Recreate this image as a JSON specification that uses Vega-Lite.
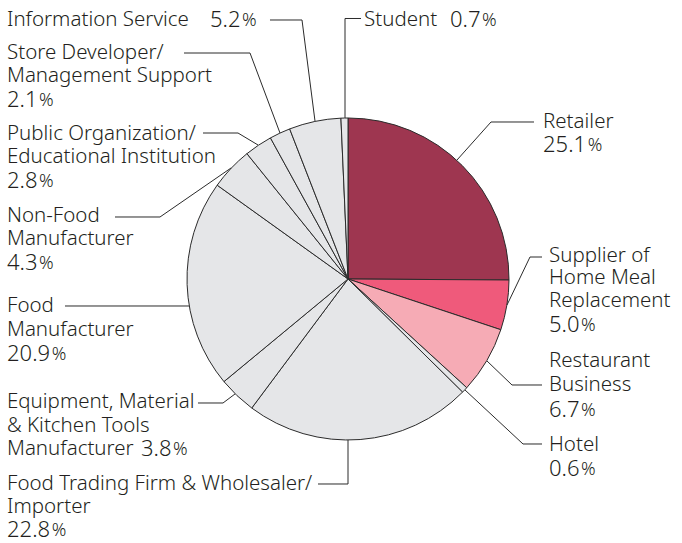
{
  "$schema": "https://vega.github.io/schema/vega-lite/v6.json",
  "width": 682,
  "height": 543,
  "padding": 0,
  "autosize": {"type": "none"},
  "background": "white",
  "config": {"view": {"stroke": null}},
  "datasets": {
    "slices": [
      {"cat": "Retailer", "value": 25.1, "idx": 1, "grp": "Retailer"},
      {"cat": "Supplier of Home Meal Replacement", "value": 5.0, "idx": 2, "grp": "Supplier"},
      {"cat": "Restaurant Business", "value": 6.7, "idx": 3, "grp": "Restaurant"},
      {"cat": "Hotel", "value": 0.6, "idx": 4, "grp": "Other"},
      {"cat": "Food Trading Firm & Wholesaler/Importer", "value": 22.8, "idx": 5, "grp": "Other"},
      {"cat": "Equipment, Material & Kitchen Tools Manufacturer", "value": 3.8, "idx": 6, "grp": "Other"},
      {"cat": "Food Manufacturer", "value": 20.9, "idx": 7, "grp": "Other"},
      {"cat": "Non-Food Manufacturer", "value": 4.3, "idx": 8, "grp": "Other"},
      {"cat": "Public Organization/Educational Institution", "value": 2.8, "idx": 9, "grp": "Other"},
      {"cat": "Store Developer/Management Support", "value": 2.1, "idx": 10, "grp": "Other"},
      {"cat": "Information Service", "value": 5.2, "idx": 11, "grp": "Other"},
      {"cat": "Student", "value": 0.7, "idx": 12, "grp": "Other"}
    ],
    "leaders": [
      {"id": "Student", "s": 0, "x": -1.86, "y": 100},
      {"id": "Student", "s": 1, "x": -1.86, "y": 161.8},
      {"id": "Student", "s": 2, "x": 8.07, "y": 161.8},
      {"id": "Info", "s": 0, "x": -20.5, "y": 98.14},
      {"id": "Info", "s": 1, "x": -28.57, "y": 160.87},
      {"id": "Info", "s": 2, "x": -48.45, "y": 160.87},
      {"id": "Store", "s": 0, "x": -42.24, "y": 90.68},
      {"id": "Store", "s": 1, "x": -60.87, "y": 140.37},
      {"id": "Store", "s": 2, "x": -101.86, "y": 140.37},
      {"id": "Public", "s": 0, "x": -55.9, "y": 83.23},
      {"id": "Public", "s": 1, "x": -68.32, "y": 90.68},
      {"id": "Public", "s": 2, "x": -90.06, "y": 90.68},
      {"id": "NonFood", "s": 0, "x": -72.67, "y": 68.94},
      {"id": "NonFood", "s": 1, "x": -116.77, "y": 38.51},
      {"id": "NonFood", "s": 2, "x": -144.72, "y": 38.51},
      {"id": "Food", "s": 0, "x": -98.76, "y": -16.77},
      {"id": "Food", "s": 1, "x": -175.78, "y": -16.77},
      {"id": "Equip", "s": 0, "x": -70.19, "y": -71.43},
      {"id": "Equip", "s": 1, "x": -77.64, "y": -77.02},
      {"id": "Equip", "s": 2, "x": -93.17, "y": -77.02},
      {"id": "Trading", "s": 0, "x": 0, "y": -100},
      {"id": "Trading", "s": 1, "x": 0, "y": -127.33},
      {"id": "Trading", "s": 2, "x": -18.63, "y": -127.33},
      {"id": "Hotel", "s": 0, "x": 72.67, "y": -68.94},
      {"id": "Hotel", "s": 1, "x": 108.7, "y": -102.48},
      {"id": "Hotel", "s": 2, "x": 120.5, "y": -102.48},
      {"id": "Restaurant", "s": 0, "x": 86.34, "y": -50.93},
      {"id": "Restaurant", "s": 1, "x": 101.86, "y": -65.84},
      {"id": "Restaurant", "s": 2, "x": 120.5, "y": -65.84},
      {"id": "Supplier", "s": 0, "x": 98.76, "y": -16.15},
      {"id": "Supplier", "s": 1, "x": 113.04, "y": 13.66},
      {"id": "Supplier", "s": 2, "x": 120.5, "y": 13.66},
      {"id": "Retailer", "s": 0, "x": 67.7, "y": 73.91},
      {"id": "Retailer", "s": 1, "x": 88.82, "y": 97.52},
      {"id": "Retailer", "s": 2, "x": 115.53, "y": 97.52}
    ],
    "texts": [
      {"t": "Information Service", "kind": "label", "x": -211.8, "y": 160.87},
      {"t": "Store Developer/", "kind": "label", "x": -211.8, "y": 140.06},
      {"t": "Management Support", "kind": "label", "x": -211.8, "y": 125.78},
      {"t": "Public Organization/", "kind": "label", "x": -211.8, "y": 90.06},
      {"t": "Educational Institution", "kind": "label", "x": -211.8, "y": 75.78},
      {"t": "Non-Food", "kind": "label", "x": -211.8, "y": 39.13},
      {"t": "Manufacturer", "kind": "label", "x": -211.8, "y": 24.84},
      {"t": "Food", "kind": "label", "x": -211.8, "y": -16.77},
      {"t": "Manufacturer", "kind": "label", "x": -211.8, "y": -31.68},
      {"t": "Equipment, Material", "kind": "label", "x": -211.8, "y": -76.4},
      {"t": "& Kitchen Tools", "kind": "label", "x": -211.8, "y": -91.3},
      {"t": "Manufacturer", "kind": "label", "x": -211.8, "y": -105.59},
      {"t": "Food Trading Firm & Wholesaler/", "kind": "label", "x": -211.8, "y": -127.33},
      {"t": "Importer", "kind": "label", "x": -211.8, "y": -141.61},
      {"t": "Student", "kind": "label", "x": 9.94, "y": 160.87},
      {"t": "Retailer", "kind": "label", "x": 121.12, "y": 97.52},
      {"t": "Supplier of", "kind": "label", "x": 124.84, "y": 14.29},
      {"t": "Home Meal", "kind": "label", "x": 124.84, "y": 0.62},
      {"t": "Replacement", "kind": "label", "x": 124.84, "y": -13.66},
      {"t": "Restaurant", "kind": "label", "x": 124.84, "y": -50.93},
      {"t": "Business", "kind": "label", "x": 124.84, "y": -65.84},
      {"t": "Hotel", "kind": "label", "x": 124.84, "y": -103.11},
      {"t": "5.2", "kind": "num", "x": -85.71, "y": 160.87},
      {"t": "2.1", "kind": "num", "x": -211.8, "y": 111.18},
      {"t": "2.8", "kind": "num", "x": -211.8, "y": 60.87},
      {"t": "4.3", "kind": "num", "x": -211.8, "y": 9.94},
      {"t": "20.9", "kind": "num", "x": -211.8, "y": -46.58},
      {"t": "3.8", "kind": "num", "x": -128.6, "y": -105.59},
      {"t": "22.8", "kind": "num", "x": -211.8, "y": -155.9},
      {"t": "0.7", "kind": "num", "x": 63.35, "y": 160.87},
      {"t": "25.1", "kind": "num", "x": 121.12, "y": 83.23},
      {"t": "5.0", "kind": "num", "x": 124.84, "y": -28.57},
      {"t": "6.7", "kind": "num", "x": 124.84, "y": -81.37},
      {"t": "0.6", "kind": "num", "x": 124.84, "y": -118.01},
      {"t": "%", "kind": "pct", "x": -65.78, "y": 160.87},
      {"t": "%", "kind": "pct", "x": -191.87, "y": 111.18},
      {"t": "%", "kind": "pct", "x": -191.87, "y": 60.87},
      {"t": "%", "kind": "pct", "x": -191.87, "y": 9.94},
      {"t": "%", "kind": "pct", "x": -184.03, "y": -46.58},
      {"t": "%", "kind": "pct", "x": -108.64, "y": -105.59},
      {"t": "%", "kind": "pct", "x": -184.03, "y": -155.9},
      {"t": "%", "kind": "pct", "x": 83.29, "y": 160.87},
      {"t": "%", "kind": "pct", "x": 148.89, "y": 83.23},
      {"t": "%", "kind": "pct", "x": 144.78, "y": -28.57},
      {"t": "%", "kind": "pct", "x": 144.78, "y": -81.37},
      {"t": "%", "kind": "pct", "x": 144.78, "y": -118.01}
    ]
  },
  "layer": [
    {
      "data": {"name": "slices"},
      "mark": {"type": "arc", "outerRadius": 161, "stroke": "#2b2b2b", "strokeWidth": 1},
      "encoding": {
        "x": {"datum": 0, "type": "quantitative", "scale": {"domain": [-216.15, 207.45], "nice": false, "zero": false}, "axis": null},
        "y": {"datum": 0, "type": "quantitative", "scale": {"domain": [-163.98, 173.29], "nice": false, "zero": false}, "axis": null},
        "theta": {"field": "value", "type": "quantitative", "stack": true},
        "order": {"field": "idx", "type": "quantitative"},
        "color": {"field": "grp", "type": "nominal", "legend": null,
          "scale": {"domain": ["Retailer", "Supplier", "Restaurant", "Other"], "range": ["#9e3650", "#ef5a7b", "#f6abb5", "#e5e6e8"]}}
      }
    },
    {
      "data": {"name": "leaders"},
      "mark": {"type": "line", "color": "#2b2b2b", "strokeWidth": 1},
      "encoding": {
        "x": {"field": "x", "type": "quantitative", "scale": {"domain": [-216.15, 207.45], "nice": false, "zero": false}, "axis": null},
        "y": {"field": "y", "type": "quantitative", "scale": {"domain": [-163.98, 173.29], "nice": false, "zero": false}, "axis": null},
        "detail": {"field": "id", "type": "nominal"},
        "order": {"field": "s", "type": "quantitative"}
      }
    },
    {
      "data": {"name": "texts"},
      "transform": [{"filter": "datum.kind === 'label'"}],
      "mark": {"type": "text", "align": "left", "baseline": "middle", "font": "Noto Sans", "fontSize": 20.5, "fontWeight": 300, "color": "#231f20"},
      "encoding": {
        "x": {"field": "x", "type": "quantitative", "scale": {"domain": [-216.15, 207.45], "nice": false, "zero": false}, "axis": null},
        "y": {"field": "y", "type": "quantitative", "scale": {"domain": [-163.98, 173.29], "nice": false, "zero": false}, "axis": null},
        "text": {"field": "t", "type": "nominal"}
      }
    },
    {
      "data": {"name": "texts"},
      "transform": [{"filter": "datum.kind === 'num'"}],
      "mark": {"type": "text", "align": "left", "baseline": "middle", "font": "Noto Sans", "fontSize": 22, "fontWeight": 300, "color": "#231f20"},
      "encoding": {
        "x": {"field": "x", "type": "quantitative", "scale": {"domain": [-216.15, 207.45], "nice": false, "zero": false}, "axis": null},
        "y": {"field": "y", "type": "quantitative", "scale": {"domain": [-163.98, 173.29], "nice": false, "zero": false}, "axis": null},
        "text": {"field": "t", "type": "nominal"}
      }
    },
    {
      "data": {"name": "texts"},
      "transform": [{"filter": "datum.kind === 'pct'"}],
      "mark": {"type": "text", "align": "left", "baseline": "middle", "font": "Noto Sans", "fontSize": 18, "fontWeight": 300, "dy": 1.2, "color": "#231f20"},
      "encoding": {
        "x": {"field": "x", "type": "quantitative", "scale": {"domain": [-216.15, 207.45], "nice": false, "zero": false}, "axis": null},
        "y": {"field": "y", "type": "quantitative", "scale": {"domain": [-163.98, 173.29], "nice": false, "zero": false}, "axis": null},
        "text": {"field": "t", "type": "nominal"}
      }
    }
  ]
}
